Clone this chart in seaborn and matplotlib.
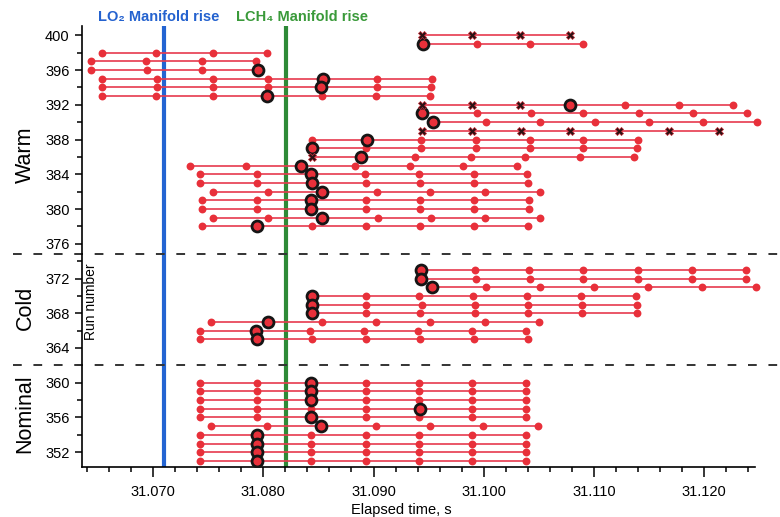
import numpy as np
import pandas as pd
import matplotlib
matplotlib.use("Agg")
import matplotlib.pyplot as plt
from matplotlib.ticker import MultipleLocator, FormatStrFormatter
import seaborn as sns

# --- data ---
# each run: sample times (s), index of the circled point, indices drawn as x
warm_runs = [400, 399, 398, 397, 396, 395, 394, 393, 392, 391, 390, 389,
             388, 387, 386, 385, 384, 383, 382, 381, 380, 379, 378]
warm_times = [
    [31.0944, 31.0989, 31.1033, 31.1078],
    [31.0945, 31.0994, 31.1042, 31.1090],
    [31.0654, 31.0703, 31.0754, 31.0803],
    [31.0644, 31.0694, 31.0744, 31.0793],
    [31.0644, 31.0695, 31.0744, 31.0795],
    [31.0654, 31.0704, 31.0754, 31.0804, 31.0854, 31.0903, 31.0953],
    [31.0654, 31.0704, 31.0754, 31.0804, 31.0852, 31.0903, 31.0952],
    [31.0654, 31.0703, 31.0754, 31.0803, 31.0853, 31.0902, 31.0951],
    [31.0944, 31.0989, 31.1033, 31.1078, 31.1128, 31.1177, 31.1226],
    [31.0944, 31.0994, 31.1043, 31.1090, 31.1141, 31.1190, 31.1239],
    [31.0954, 31.1002, 31.1051, 31.1101, 31.1150, 31.1199, 31.1248],
    [31.0944, 31.0989, 31.1034, 31.1078, 31.1123, 31.1168, 31.1213],
    [31.0844, 31.0894, 31.0943, 31.0993, 31.1042, 31.1090, 31.1140],
    [31.0844, 31.0893, 31.0943, 31.0993, 31.1042, 31.1090, 31.1139],
    [31.0844, 31.0889, 31.0938, 31.0988, 31.1037, 31.1087, 31.1136],
    [31.0734, 31.0784, 31.0834, 31.0883, 31.0933, 31.0981, 31.1030],
    [31.0743, 31.0794, 31.0843, 31.0892, 31.0941, 31.0991, 31.1039],
    [31.0743, 31.0794, 31.0844, 31.0893, 31.0942, 31.0991, 31.1040],
    [31.0754, 31.0804, 31.0853, 31.0903, 31.0951, 31.1001, 31.1051],
    [31.0744, 31.0794, 31.0843, 31.0893, 31.0942, 31.0991, 31.1041],
    [31.0744, 31.0794, 31.0843, 31.0893, 31.0942, 31.0991, 31.1041],
    [31.0754, 31.0804, 31.0853, 31.0904, 31.0952, 31.1001, 31.1051],
    [31.0744, 31.0794, 31.0844, 31.0893, 31.0942, 31.0991, 31.1040],
]
warm_circled = [None, 0, None, None, 3, 4, 4, 3, 3, 0, 0, None,
                1, 0, 1, 2, 2, 2, 2, 2, 2, 2, 1]
warm_crossed = [[0, 1, 2, 3], [], [], [], [], [], [], [], [0, 1, 2], [], [],
                [0, 1, 2, 3, 4, 5, 6], [], [], [0], [], [], [], [], [], [], [], []]

cold_runs = [373, 372, 371, 370, 369, 368, 367, 366, 365]
cold_times = [
    [31.0943, 31.0992, 31.1041, 31.1090, 31.1140, 31.1189, 31.1238],
    [31.0943, 31.0993, 31.1042, 31.1090, 31.1140, 31.1189, 31.1238],
    [31.0953, 31.1002, 31.1051, 31.1100, 31.1149, 31.1198, 31.1247],
    [31.0844, 31.0893, 31.0941, 31.0990, 31.1039, 31.1088, 31.1138],
    [31.0844, 31.0893, 31.0944, 31.0992, 31.1040, 31.1089, 31.1139],
    [31.0844, 31.0893, 31.0942, 31.0992, 31.1040, 31.1089, 31.1139],
    [31.0753, 31.0804, 31.0853, 31.0902, 31.0951, 31.1001, 31.1050],
    [31.0743, 31.0793, 31.0842, 31.0891, 31.0940, 31.0989, 31.1038],
    [31.0743, 31.0794, 31.0844, 31.0893, 31.0942, 31.0991, 31.1040],
]
cold_circled = [0, 0, 0, 0, 0, 0, 1, 1, 1]

nominal_runs = [360, 359, 358, 357, 356, 355, 354, 353, 352, 351]
nominal_times = [
    [31.0743, 31.0794, 31.0843, 31.0893, 31.0941, 31.0989, 31.1038],
    [31.0743, 31.0794, 31.0843, 31.0893, 31.0941, 31.0989, 31.1038],
    [31.0743, 31.0794, 31.0843, 31.0893, 31.0941, 31.0989, 31.1038],
    [31.0743, 31.0794, 31.0843, 31.0893, 31.0942, 31.0989, 31.1038],
    [31.0743, 31.0794, 31.0843, 31.0893, 31.0941, 31.0989, 31.1038],
    [31.0753, 31.0803, 31.0852, 31.0902, 31.0951, 31.0999, 31.1049],
    [31.0743, 31.0794, 31.0843, 31.0893, 31.0941, 31.0989, 31.1038],
    [31.0743, 31.0794, 31.0843, 31.0893, 31.0941, 31.0989, 31.1038],
    [31.0743, 31.0794, 31.0843, 31.0893, 31.0941, 31.0989, 31.1038],
    [31.0743, 31.0794, 31.0843, 31.0893, 31.0941, 31.0989, 31.1038],
]
nominal_circled = [2, 2, 2, 4, 2, 2, 1, 1, 1, 1]

lo2_rise = 31.0710
lch4_rise = 31.0821
group_breaks = [374.8, 362.0]

# --- build a long table ---
records = []
groups = [
    (warm_runs, warm_times, warm_circled, warm_crossed),
    (cold_runs, cold_times, cold_circled, [[] for _ in cold_runs]),
    (nominal_runs, nominal_times, nominal_circled, [[] for _ in nominal_runs]),
]
for runs, times, circled, crossed in groups:
    for run, ts, hl, xs in zip(runs, times, circled, crossed):
        for i, t in enumerate(ts):
            kind = "dot"
            if i in xs:
                kind = "cross"
            elif hl == i:
                kind = "circled"
            records.append({"run": run, "time": t, "kind": kind})
df = pd.DataFrame(records)

sns.set_theme(style="ticks")
plt.rcParams["font.family"] = ["Liberation Sans", "DejaVu Sans"]
plt.rcParams["text.color"] = "black"
plt.rcParams["axes.labelcolor"] = "black"
plt.rcParams["xtick.color"] = "black"
plt.rcParams["ytick.color"] = "black"

red_line = "#e63a4e"
red_dot = "#e8303a"

fig = plt.figure(figsize=(7.8, 5.17), dpi=100)
ax = fig.add_axes([82 / 780, 1 - 467 / 517, 673 / 780, 441 / 517])

ax.axvline(lo2_rise, color="#2364d2", lw=3, zorder=1.5)
ax.axvline(lch4_rise, color="#2e8a37", lw=3, zorder=1.5)

sns.lineplot(data=df, x="time", y="run", units="run", estimator=None,
             sort=True, color=red_line, lw=1.2, legend=False, ax=ax, zorder=3)

dots = df[df["kind"] == "dot"]
sns.scatterplot(data=dots, x="time", y="run", color=red_dot, s=32,
                linewidth=0, legend=False, ax=ax, zorder=4, clip_on=False)
circ = df[df["kind"] == "circled"]
sns.scatterplot(data=circ, x="time", y="run", color=red_dot, s=62,
                edgecolor="#151515", linewidth=2, legend=False, ax=ax, zorder=5)
cross = df[df["kind"] == "cross"]
sns.scatterplot(data=cross, x="time", y="run", marker="X", color="#2b1214",
                edgecolor="#c9303a", linewidth=0.5, s=34, legend=False, ax=ax, zorder=5)

for yb in group_breaks:
    ax.axhline(yb, xmin=-0.103, xmax=1.04, clip_on=False, color="#333333",
               lw=1.4, ls=(0, (4.5, 6)), zorder=2)

ax.set_xlim(31.06356, 31.1246)
ax.set_ylim(350.3, 401.07)
ax.xaxis.set_major_locator(MultipleLocator(0.01))
ax.xaxis.set_minor_locator(MultipleLocator(0.002))
ax.xaxis.set_major_formatter(FormatStrFormatter("%.3f"))
ax.yaxis.set_major_locator(MultipleLocator(4))
ax.yaxis.set_minor_locator(MultipleLocator(2))
ax.yaxis.set_major_formatter(FormatStrFormatter("%d"))

ax.tick_params(axis="x", which="major", direction="out", length=7, width=1.1,
               pad=6, labelsize=10.5, color="black", labelcolor="black")
ax.tick_params(axis="y", which="major", direction="out", length=5, width=1.1,
               pad=4, labelsize=10.5, color="black", labelcolor="black")
ax.tick_params(which="minor", direction="out", length=3.5, width=1.1, color="black")
for side in ["top", "right"]:
    ax.spines[side].set_visible(False)
for side in ["left", "bottom"]:
    ax.spines[side].set_color("black")
    ax.spines[side].set_linewidth(1.2)

ax.set_xlabel("Elapsed time, s", fontsize=10.5, color="black")
ax.xaxis.set_label_coords(0.474, -0.082)
ax.set_ylabel("")

fig.text(91 / 780, 1 - 302 / 517, "Run number", rotation=90, ha="center",
         va="center", fontsize=10)
fig.text(25 / 780, 1 - 155 / 517, "Warm", rotation=90, ha="center", va="center", fontsize=15.5)
fig.text(25 / 780, 1 - 308 / 517, "Cold", rotation=90, ha="center", va="center", fontsize=15.5)
fig.text(25 / 780, 1 - 414 / 517, "Nominal", rotation=90, ha="center", va="center", fontsize=15.5)

fig.text(158.5 / 780, 1 - 17 / 517, "LO₂ Manifold rise", ha="center", va="center",
         color="#2462cf", fontweight="bold", fontsize=10.5)
fig.text(301.5 / 780, 1 - 17 / 517, "LCH₄ Manifold rise", ha="center", va="center",
         color="#3a9a3a", fontweight="bold", fontsize=10.5)

fig.savefig("out.png", dpi=100)
